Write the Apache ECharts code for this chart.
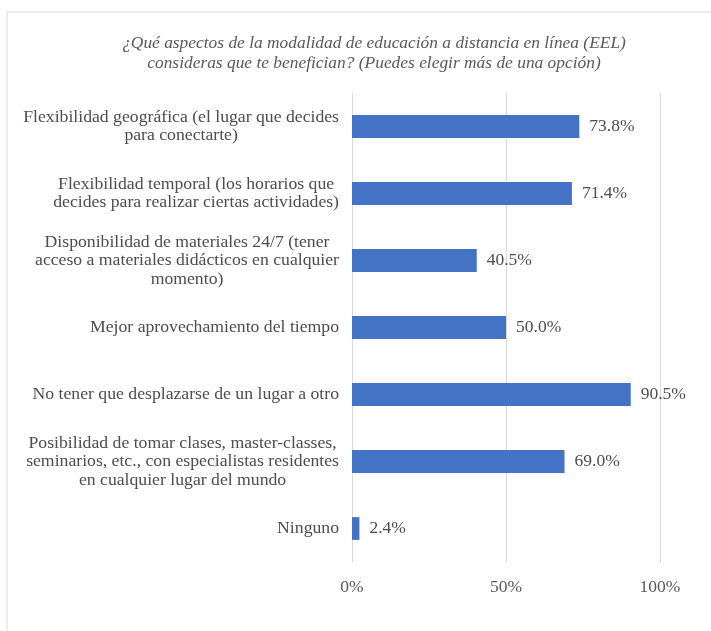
<!DOCTYPE html>
<html>
<head>
<meta charset="utf-8">
<script src="https://cdn.jsdelivr.net/npm/echarts@6/dist/echarts.min.js"></script>
<style>
html,body{margin:0;padding:0;background:#fff;}
#c{width:711px;height:631px;}
</style>
</head>
<body>
<div id="c"></div>
<script>
var titleText = "¿Qué aspectos de la modalidad de educación a distancia en línea (EEL)\nconsideras que te benefician? (Puedes elegir más de una opción)";
var categories = [
  "Flexibilidad geográfica (el lugar que decides\npara conectarte)",
  "Flexibilidad temporal (los horarios que\ndecides para realizar ciertas actividades)",
  "Disponibilidad de materiales 24/7 (tener\nacceso a materiales didácticos en cualquier\nmomento)",
  "Mejor aprovechamiento del tiempo",
  "No tener que desplazarse de un lugar a otro",
  "Posibilidad de tomar clases, master-classes,\nseminarios, etc., con especialistas residentes\nen cualquier lugar del mundo",
  "Ninguno"
];
var values = [73.8, 71.4, 40.5, 50.0, 90.5, 69.0, 2.4];
var tickValues = [0, 50, 100];

var chart = echarts.init(document.getElementById('c'), null, {renderer: 'canvas'});
var font = '"Liberation Serif", "Times New Roman", serif';
chart.setOption({
  animation: false,
  backgroundColor: '#fff',
  title: {
    text: titleText,
    left: 369,
    textAlign: 'center',
    top: 28,
    textStyle: {
      fontFamily: font, fontStyle: 'italic', fontWeight: 'normal',
      fontSize: 17.4, lineHeight: 20, color: '#595959'
    }
  },
  graphic: [{
    type: 'rect',
    shape: {x: 7, y: 12, width: 720, height: 640},
    style: {fill: 'none', stroke: '#d9d9d9', lineWidth: 1},
    silent: true
  }],
  grid: {left: 352, right: 51, top: 93, bottom: 69, containLabel: false},
  xAxis: {
    type: 'value',
    min: 0, max: 100, interval: 50,
    axisLine: {show: false},
    axisTick: {show: false},
    splitLine: {show: true, lineStyle: {color: '#d9d9d9', width: 1}},
    axisLabel: {
      formatter: function (v) { return tickValues.indexOf(v) >= 0 ? v + '%' : ''; },
      fontFamily: font, fontSize: 17.5, color: '#595959', margin: 16
    }
  },
  yAxis: {
    type: 'category',
    inverse: true,
    data: categories,
    axisLine: {show: false},
    axisTick: {show: false},
    axisLabel: {
      margin: 13,
      align: 'right',
      formatter: function (v) {
        return v.split('\n').map(function (l) { return '{c|' + l + '}'; }).join('\n');
      },
      rich: {
        c: {align: 'center', fontFamily: font, fontSize: 17.7, lineHeight: 18.5, color: '#4d4d4d'}
      }
    }
  },
  series: [{
    type: 'bar',
    data: values,
    barCategoryGap: '66%',
    itemStyle: {color: '#4472C4'},
    label: {
      show: true, position: 'right', distance: 10,
      formatter: function (p) { return p.value.toFixed(1) + '%'; },
      fontFamily: font, fontSize: 17.5, color: '#4d4d4d'
    }
  }]
});
</script>
</body>
</html>
